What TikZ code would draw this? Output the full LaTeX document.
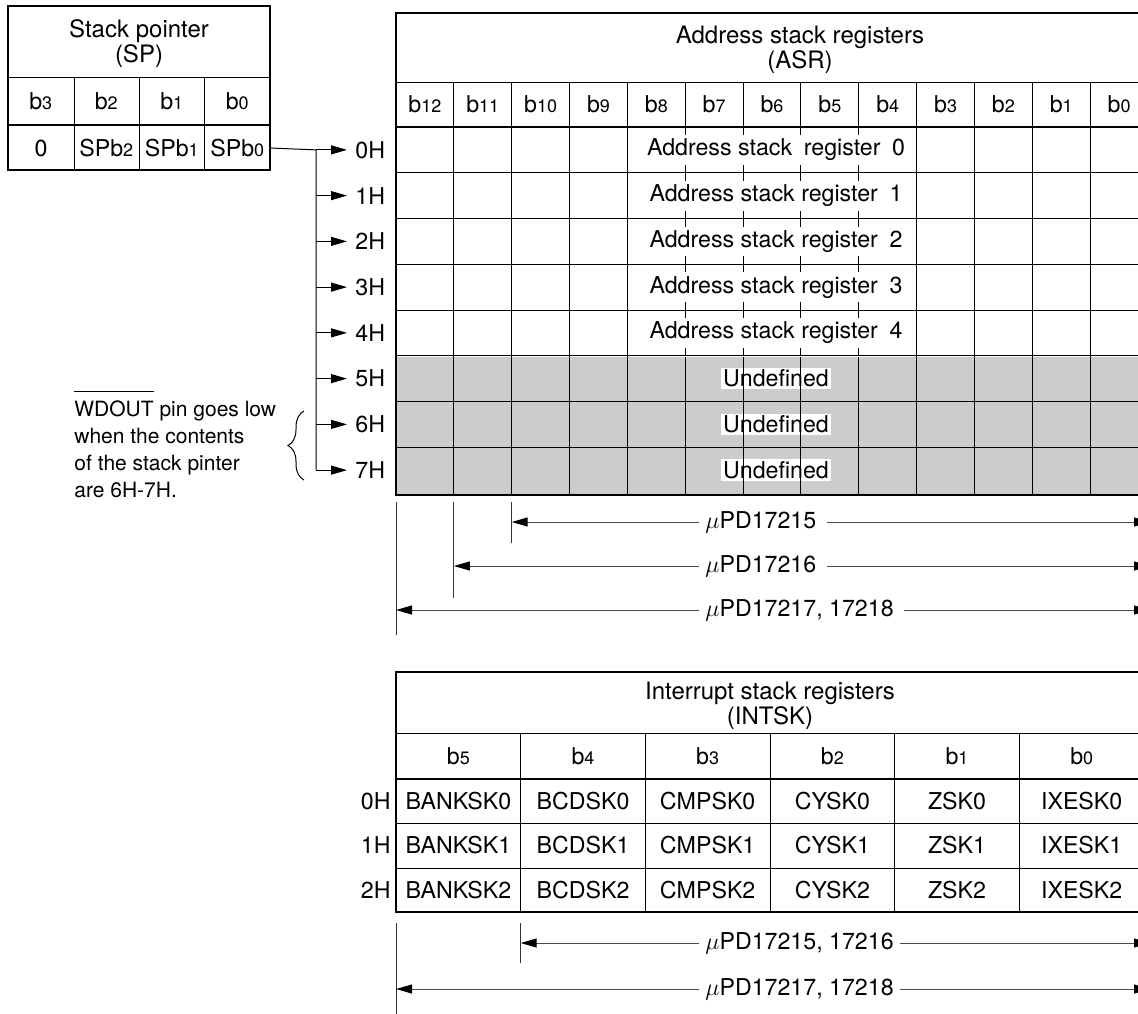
\documentclass[tikz,border=0pt]{standalone}
\usepackage{fontspec}
\setmainfont{TeX Gyre Heros}
\usetikzlibrary{arrows.meta, positioning, calc, decorations.pathreplacing}
\definecolor{undefgray}{RGB}{204,204,204}

\newcommand{\bitlab}[1]{b{\fontsize{9}{10}\selectfont #1}}
\newcommand{\spbitlab}[1]{SPb{\fontsize{9}{10}\selectfont #1}}

\begin{document}
\begin{tikzpicture}[x=0.5pt, y=-0.5pt,
  gridline/.style={line width=0.5pt},
  frameline/.style={line width=1.2pt},
  celltext/.style={inner sep=0pt, font=\fontsize{11.6}{13}\selectfont},
  headtext/.style={inner sep=0pt, align=center, font=\fontsize{12}{12.5}\selectfont},
  notetext/.style={inner sep=0pt, align=left, font=\fontsize{10.5}{13.5}\selectfont},
  ptrarrow/.style={line width=0.5pt, -{Triangle[length=8pt, width=4.5pt]}, shorten >=4pt},
  rangeline/.style={line width=0.5pt, black!70, -{Triangle[length=8pt, width=4.5pt, black]}},
  rangelabel/.style={celltext, inner xsep=3pt, anchor=west},
  limitline/.style={line width=0.5pt, black!80}]
\useasboundingbox (0,0) rectangle (1138,1013);

% ---- stack pointer ----
\draw[gridline] (8,77) -- (270,77);
\foreach \x in {74,139,204}
  \draw[gridline] (\x,77) -- (\x,170);
\draw[frameline] (8,125) -- (270,125);
\draw[frameline] (8,6) rectangle (270,170);
\node[headtext] (sphead) at (139,44) {Stack pointer\\(SP)};
\foreach \b [count=\i from 0] in {3,2,1,0}
  \node[celltext] (spbit\b) at ({8+65.5*(\i+0.5)},101) {\bitlab{\b}};
\node[celltext] (spval3) at (41,148) {0};
\foreach \b [count=\i from 1] in {2,1,0}
  \node[celltext] (spval\b) at ({8+65.5*(\i+0.5)},148) {\spbitlab{\b}};
\coordinate (spout) at (270,148);

% ---- pointer to the address stack ----
\foreach \k in {0,...,7} {
  \node[celltext, anchor=west] (addr\k) at (355,{127+45.75*(\k+0.5)}) {\k H};
  \coordinate (bus\k) at (316,{127+45.75*(\k+0.5)});
  \draw[ptrarrow] (bus\k) -- (addr\k);
}
\draw[gridline] (spout) -- (bus0) -- (bus7);

% ---- WDOUT note ----
\node[notetext, anchor=north west] (wdnote) at (74,390)
  {$\overline{\mbox{WDOUT}\rule{0pt}{10.8pt}}$ pin goes low\\when the contents\\of the stack pinter\\are 6H-7H.};
\draw[gridline, decorate, decoration={brace, amplitude=8pt}] (304,480) -- (304,411);

% ---- address stack registers ----
\fill[undefgray] (396,357) rectangle (1148,495);
\foreach \k in {5,6,7}
  \node[celltext, fill=white, inner sep=1pt] (undef\k) at (776,{127+45.75*(\k+0.5)}) {Undefined};
\foreach \k in {1,...,7}
  \draw[gridline] (396,{127+45.75*\k}) -- (1148,{127+45.75*\k});
\draw[gridline] (396,82) -- (1148,82);
\foreach \i in {1,2,3,4,9,10,11,12}
  \draw[gridline] ({396+57.85*\i},82) -- ({396+57.85*\i},495);
\foreach \i in {5,...,8} {
  \draw[gridline] ({396+57.85*\i},82) -- ({396+57.85*\i},127);
  \draw[gridline] ({396+57.85*\i},357) -- ({396+57.85*\i},495);
  \foreach \k in {0,...,4} {
    \draw[gridline] ({396+57.85*\i},{127+45.75*\k}) -- ++(0,8);
    \draw[gridline] ({396+57.85*\i},{127+45.75*(\k+1)}) -- ++(0,-8);
  }
}
\draw[frameline] (396,127) -- (1148,127);
\draw[frameline] (396,13) rectangle (1148,495);
\node[headtext] (asrhead) at (800,50) {Address stack registers\\(ASR)};
\foreach \b [count=\i from 0] in {12,11,...,0}
  \node[celltext] (asrbit\b) at ({396+57.85*(\i+0.5)},104.5) {\bitlab{\b}};
\node[celltext] (asr0) at (776,150) {Address stack\enspace register\enspace 0};
\foreach \k in {1,...,4}
  \node[celltext] (asr\k) at (776,{127+45.75*(\k+0.5)}) {Address stack register\enspace\k};

% ---- ASR ranges ----
\draw[limitline] (396,502) -- (396,635);
\draw[limitline] (453.85,502) -- (453.85,598);
\draw[limitline] (511.7,502) -- (511.7,543);
\foreach \lim/\y/\nm/\txt in {511.7/522/pdA/{$\mu$PD17215},
                               453.85/566/pdB/{$\mu$PD17216},
                               396/610/pdC/{$\mu$PD17217, 17218}} {
  \node[rangelabel] (\nm) at (699,\y) {\txt};
  \coordinate (\nm l) at (\lim,\y);
  \coordinate (\nm r) at (1150,\y);
  \draw[rangeline] (\nm) -- (\nm l);
  \draw[rangeline, shorten <=2pt] (\nm) -- (\nm r);
}

% ---- interrupt stack registers ----
\draw[gridline] (396,733) -- (1144,733);
\foreach \j in {1,...,5}
  \draw[gridline] ({396+124.67*\j},733) -- ({396+124.67*\j},912);
\foreach \y in {823,868}
  \draw[gridline] (396,\y) -- (1144,\y);
\draw[frameline] (396,779) -- (1144,779);
\draw[frameline] (396,672) rectangle (1144,912);
\node[headtext] (inthead) at (770,706) {Interrupt stack registers\\(INTSK)};
\foreach \b [count=\j from 0] in {5,4,...,0}
  \node[celltext] (intbit\b) at ({396+124.67*(\j+0.5)},756) {\bitlab{\b}};
\foreach \r/\y in {0/801,1/845.5,2/890} {
  \node[celltext, anchor=east] (introw\r) at (391,\y) {\r H};
  \foreach \f [count=\j from 0] in {BANKSK,BCDSK,CMPSK,CYSK,ZSK,IXESK}
    \node[celltext] (\f\r) at ({396+124.67*(\j+0.5)},\y) {\f\r};
}

% ---- INTSK ranges ----
\draw[limitline] (396,923) -- (396,1015);
\draw[limitline] (520.67,923) -- (520.67,963);
\foreach \lim/\y/\nm/\txt in {520.67/943/pdD/{$\mu$PD17215, 17216},
                               396/989/pdE/{$\mu$PD17217, 17218}} {
  \node[rangelabel] (\nm) at (699,\y) {\txt};
  \coordinate (\nm l) at (\lim,\y);
  \coordinate (\nm r) at (1150,\y);
  \draw[rangeline] (\nm) -- (\nm l);
  \draw[rangeline] (\nm) -- (\nm r);
}
\end{tikzpicture}
\end{document}
